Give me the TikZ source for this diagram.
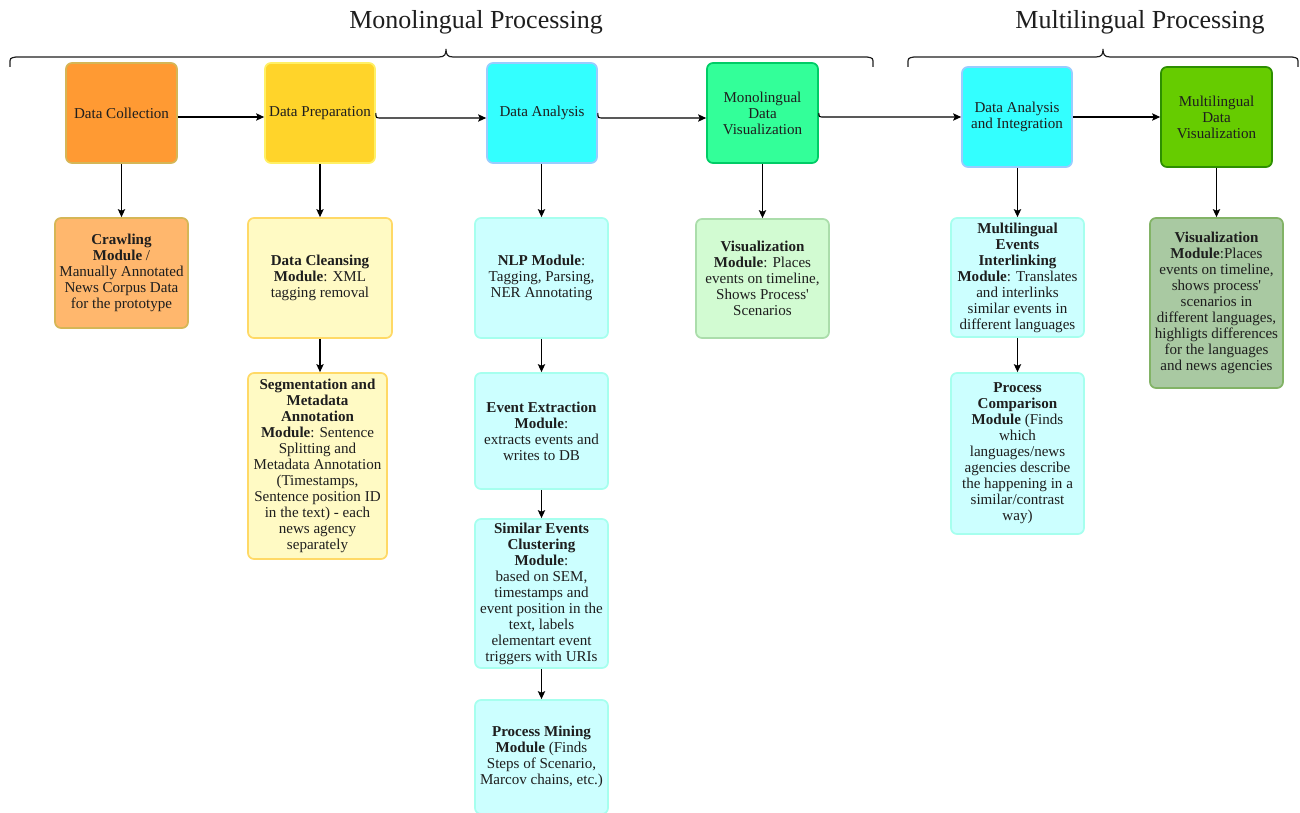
\documentclass[tikz,border=0pt]{standalone}
\usepackage{fontspec}
\setmainfont{Liberation Serif}
\usetikzlibrary{arrows.meta,calc}
\definecolor{txt}{HTML}{1E1E1E}
\definecolor{dcF}{HTML}{FF9A33}\definecolor{dcD}{HTML}{D6B656}
\definecolor{dpF}{HTML}{FFD42A}\definecolor{dpD}{HTML}{FFF066}
\definecolor{daF}{HTML}{33FFFF}\definecolor{daD}{HTML}{99CCFF}
\definecolor{mvF}{HTML}{33FF99}\definecolor{mvD}{HTML}{00CC66}
\definecolor{mlF}{HTML}{66CC00}\definecolor{mlD}{HTML}{2D8F00}
\definecolor{crF}{HTML}{FFB76D}
\definecolor{ylF}{HTML}{FFFAC4}\definecolor{ylD}{HTML}{FFD966}
\definecolor{cyF}{HTML}{CCFFFF}\definecolor{cyD}{HTML}{A6FFEE}
\definecolor{grF}{HTML}{D2FBD2}\definecolor{grD}{HTML}{ABDDAB}
\definecolor{dgF}{HTML}{A9C9A2}\definecolor{dgD}{HTML}{82B366}
\begin{document}
\begin{tikzpicture}[x=0.75pt,y=-0.75pt,
  box/.style={draw, rounded corners=4.5pt, line width=1.3pt, align=center, inner sep=0pt,
    text=txt, font=\fontsize{11.3pt}{12pt}\selectfont},
  sz/.style 2 args={minimum width=#1*0.75pt, minimum height=#2*0.75pt},
  arr/.style={-{Stealth[length=6pt,width=5.5pt,inset=1.2pt]}, line width=0.85pt, draw=black},
  brace/.style={line width=0.9pt, draw=txt},
  title/.style={font=\fontsize{19.5pt}{20pt}\selectfont, anchor=base, text=txt}]
\useasboundingbox (0,0) rectangle (1300,813);
\clip (0,0) rectangle (1300,813);

% titles
\node[title] (t1) at (476,29) {Monolingual Processing};
\node[title] (t2) at (1140,29) {Multilingual Processing};

% braces
\draw[brace] (10,67) -- (10,64) .. controls (10,58) .. (16,57) -- (439,57)
  .. controls (445,57) and (446,54) .. (446,49)
  .. controls (446,54) and (447,57) .. (453,57) -- (867,57)
  .. controls (873,58) .. (873,64) -- (873,67);
\draw[brace] (908,67) -- (908,64) .. controls (908,58) .. (914,57) -- (1096,57)
  .. controls (1102,57) and (1103,54) .. (1103,49)
  .. controls (1103,54) and (1104,57) .. (1110,57) -- (1292,57)
  .. controls (1298,58) .. (1298,64) -- (1298,67);

% top row
\node[box, sz={111}{100}, fill=dcF, draw=dcD] (dc) at (121.5,113) {Data Collection};
\node[box, sz={110}{100}, fill=dpF, draw=dpD] (dp) at (320,113) {Data Preparation};
\node[box, sz={110}{100}, fill=daF, draw=daD] (da) at (542,113) {Data Analysis};
\node[box, sz={111}{100}, fill=mvF, draw=mvD] (mv) at (762.5,113) {Monolingual\\Data\\Visualization};
\node[box, sz={110}{100}, fill=daF, draw=daD] (dai) at (1017,117) {Data Analysis\\and Integration};
\node[box, sz={111}{100}, fill=mlF, draw=mlD] (mlv) at (1216.5,117) {Multilingual\\Data\\Visualization};

% lower boxes
\node[box, sz={133}{110}, fill=crF, draw=dcD] (cr) at (121.5,273)
  {\textbf{Crawling}\\\textbf{Module} /\\Manually Annotated\\News Corpus Data\\for the prototype};
\node[box, sz={144}{120}, fill=ylF, draw=ylD] (cl) at (320,278)
  {\textbf{Data Cleansing}\\\textbf{Module}: XML\\tagging removal};
\node[box, sz={139}{186}, fill=ylF, draw=ylD] (seg) at (317.5,466)
  {\textbf{Segmentation and}\\\textbf{Metadata}\\\textbf{Annotation}\\\textbf{Module}: Sentence\\Splitting and\\Metadata Annotation\\(Timestamps,\\Sentence position ID\\in the text) - each\\news agency\\separately};
\node[box, sz={133}{120}, fill=cyF, draw=cyD] (nlp) at (541.5,278)
  {\textbf{NLP Module}:\\Tagging, Parsing,\\NER Annotating};
\node[box, sz={133}{116}, fill=cyF, draw=cyD] (ee) at (541.5,431)
  {\textbf{Event Extraction}\\\textbf{Module}:\\extracts events and\\writes to DB};
\node[box, sz={133}{149}, fill=cyF, draw=cyD] (sim) at (541.5,593.5)
  {\textbf{Similar Events}\\\textbf{Clustering}\\\textbf{Module}:\\based on SEM,\\timestamps and\\event position in the\\text, labels\\elementart event\\triggers with URIs};
\node[box, sz={133}{114}, fill=cyF, draw=cyD] (pm) at (541.5,757)
  {\textbf{Process Mining}\\\textbf{Module} (Finds\\Steps of Scenario,\\Marcov chains, etc.)};
\node[box, sz={133}{119}, fill=grF, draw=grD] (vis) at (762.5,278.5)
  {\textbf{Visualization}\\\textbf{Module}: Places\\events on timeline,\\Shows Process\textquotesingle\\Scenarios};
\node[box, sz={133}{119}, fill=cyF, draw=cyD] (mil) at (1017.5,277.5)
  {\textbf{Multilingual}\\\textbf{Events}\\\textbf{Interlinking}\\\textbf{Module}: Translates\\and interlinks\\similar events in\\different languages};
\node[box, sz={133}{161}, fill=cyF, draw=cyD] (pc) at (1017.5,453.5)
  {\textbf{Process}\\\textbf{Comparison}\\\textbf{Module} (Finds\\which\\languages/news\\agencies describe\\the happening in a\\similar/contrast\\way)};
\node[box, sz={133}{170}, fill=dgF, draw=dgD] (mvis) at (1216.5,303)
  {\textbf{Visualization}\\\textbf{Module}:Places\\events on timeline,\\shows process\textquotesingle\\scenarios in\\different languages,\\highligts differences\\for the languages\\and news agencies};

% horizontal connectors
\draw[arr] (dc.east |- 0,117) -- (dp.west |- 0,117);
\draw[arr] (dp.east) .. controls ($(dp.east)+(0,5)$) .. ($(dp.east)+(6,5)$) -- (da.west |- 0,118);
\draw[arr] (da.east) .. controls ($(da.east)+(0,5)$) .. ($(da.east)+(6,5)$) -- (mv.west |- 0,118);
\draw[arr] (mv.east) .. controls ($(mv.east)+(0,4)$) .. ($(mv.east)+(6,4)$) -- (dai.west |- 0,117);
\draw[arr] (dai.east) -- (mlv.west);

% vertical connectors
\draw[arr] (dc.south) -- (cr.north);
\draw[arr] (dp.south) -- (cl.north);
\draw[arr] (cl.south) -- (cl.south |- seg.north);
\draw[arr] (da.south -| nlp.north) -- (nlp.north);
\draw[arr] (nlp.south) -- (ee.north);
\draw[arr] (ee.south) -- (sim.north);
\draw[arr] (sim.south) -- (pm.north);
\draw[arr] (mv.south) -- (vis.north);
\draw[arr] (dai.south -| mil.north) -- (mil.north);
\draw[arr] (mil.south) -- (pc.north);
\draw[arr] (mlv.south) -- (mvis.north);
\end{tikzpicture}
\end{document}
